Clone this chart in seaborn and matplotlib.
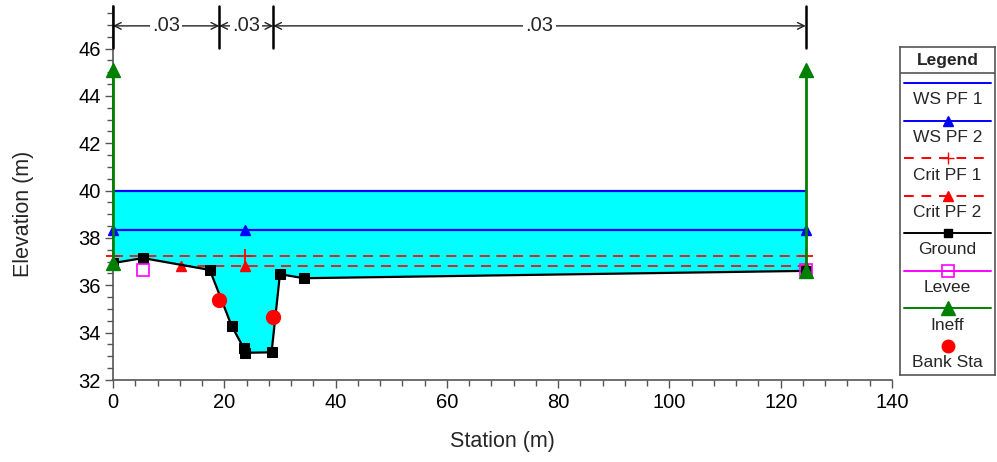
import matplotlib

matplotlib.use("Agg")
import matplotlib.pyplot as plt
import numpy as np
import pandas as pd
import seaborn as sns

sns.set_theme(style="ticks")
plt.rcParams["font.family"] = ["Liberation Sans", "DejaVu Sans"]

# --- data ------------------------------------------------------------------
ground_x = [0.0, 5.4, 17.4, 21.3, 23.5, 23.8, 28.5, 30.0, 34.3, 124.5]
ground_y = [36.94, 37.15, 36.65, 34.30, 33.34, 33.15, 33.17, 36.47, 36.30, 36.61]

ws_pf1 = 40.0
ws_pf2 = 38.35
crit_pf1 = 37.25
crit_pf2 = 36.82

ws_pf2_marks = [0.0, 23.8, 124.5]
crit_pf1_x = [0.0, 124.5]
crit_pf1_marks = [0.0, 23.8, 124.5]
crit_pf2_x = [12.3, 124.5]
crit_pf2_marks = [12.3, 23.8, 124.5]

levee_x = [5.4, 124.5]
levee_y = [36.65, 36.65]

ineff_x = [0.0, 124.5]
ineff_bottom = [36.94, 36.61]
ineff_top = 45.1

bank_x = [19.1, 28.8]
bank_y = [35.38, 34.65]

n_breaks = [0.0, 19.1, 28.8, 124.5]
n_values = [".03", ".03", ".03"]

legend_labels = ["WS PF 1", "WS PF 2", "Crit PF 1", "Crit PF 2",
                 "Ground", "Levee", "Ineff", "Bank Sta"]

ground = pd.DataFrame({"x": ground_x, "y": ground_y})

fig = plt.figure(figsize=(9.97, 4.62), dpi=100)
ax = fig.add_axes([113 / 997, 1 - 380 / 462, 779 / 997, 374 / 462])

# water fill
ax.fill_between(ground_x, ground_y, ws_pf1, color="#00ffff", lw=0, zorder=1)

x_end = ground_x[-1]
ax.plot([0, x_end], [ws_pf1, ws_pf1], color="#0000ff", lw=1.6, zorder=3)
ax.plot([0, x_end], [ws_pf2, ws_pf2], color="#0000ff", lw=1.6, zorder=3)
ax.plot(ws_pf2_marks, [ws_pf2] * len(ws_pf2_marks), ls="none", marker="^",
        color="#0000ff", ms=7, zorder=4, clip_on=False)

ax.plot(crit_pf1_x, [crit_pf1] * 2, color="red", lw=1.2, ls=(0, (6, 4)), zorder=3)
ax.plot(crit_pf1_marks, [crit_pf1] * len(crit_pf1_marks), ls="none", marker="+",
        color="red", ms=10, mew=1.3, zorder=4, clip_on=False)
ax.plot(crit_pf2_x, [crit_pf2] * 2, color="red", lw=1.2, ls=(0, (6, 4)), zorder=3)
ax.plot(crit_pf2_marks, [crit_pf2] * len(crit_pf2_marks), ls="none", marker="^",
        color="red", ms=7, zorder=4, clip_on=False)

sns.lineplot(data=ground, x="x", y="y", sort=False, color="black", lw=1.6,
             marker="s", markersize=6.5, markeredgecolor="black", ax=ax, zorder=5)

ax.plot(levee_x, levee_y, ls="none", marker="s", ms=9, mfc="none",
        mec="#ff00ff", mew=1.2, zorder=6)

for xi, yb in zip(ineff_x, ineff_bottom):
    ax.plot([xi, xi], [yb, ineff_top], color="green", lw=2, zorder=6,
            marker="^", ms=10, clip_on=False)

ax.plot(bank_x, bank_y, ls="none", marker="o", color="red", ms=10, zorder=7)

# Manning's n dimension lines along the top
dim_y = 46.96
for xb in n_breaks:
    ax.plot([xb, xb], [46.04, 47.8], color="black", lw=1.8, zorder=8, clip_on=False)
for x0, x1, nv in zip(n_breaks[:-1], n_breaks[1:], n_values):
    ax.annotate("", xy=(x0, dim_y), xytext=(x1, dim_y),
                arrowprops=dict(arrowstyle="<->", color="#222222", lw=1.0,
                                shrinkA=0, shrinkB=0, mutation_scale=12))
    ax.text((x0 + x1) / 2, dim_y, nv, ha="center", va="center", fontsize=14.5,
            bbox=dict(fc="white", ec="none", pad=1.5), zorder=9)

ax.set_xlim(0, 140)
ax.set_ylim(32, 47.8)
ax.set_xticks(np.arange(0, 141, 20))
ax.set_xticks(np.arange(0, 141, 4), minor=True)
ax.set_yticks(np.arange(32, 47, 2))
ax.set_yticks(np.arange(32, 47.8, 0.5), minor=True)
ax.tick_params(axis="both", which="major", length=6, width=1, color="#555555",
               labelsize=14.5, labelcolor="black", pad=3)
ax.tick_params(axis="both", which="minor", length=4, width=1, color="#555555")
for side in ["left", "bottom"]:
    ax.spines[side].set_color("#555555")
    ax.spines[side].set_linewidth(1.2)
ax.spines["top"].set_visible(False)
ax.spines["right"].set_visible(False)
ax.set_xlabel("Station (m)", fontsize=15.5, labelpad=14)
ax.set_ylabel("Elevation (m)", fontsize=15.5)
ax.yaxis.set_label_coords(-0.1014, 0.443)

# custom legend box (sample line above each label)
lax = fig.add_axes([900 / 997, 1 - 375 / 462, 95 / 997, 328 / 462])
lax.set_xlim(0, 95)
lax.set_ylim(328, 0)
lax.set_xticks([])
lax.set_yticks([])
for s in lax.spines.values():
    s.set_color("#555555")
    s.set_linewidth(1.2)
lax.text(47.5, 13, "Legend", ha="center", va="center", fontsize=12.5, fontweight="bold")
lax.plot([0, 95], [26, 26], color="#555555", lw=1.2)

styles = [
    dict(color="#0000ff", ls="-", marker=None),
    dict(color="#0000ff", ls="-", marker="^", ms=7),
    dict(color="red", ls=(0, (5, 4)), marker="+", ms=9),
    dict(color="red", ls=(0, (5, 4)), marker="^", ms=7),
    dict(color="black", ls="-", marker="s", ms=6),
    dict(color="#ff00ff", ls="-", marker="s", ms=9, mfc="none"),
    dict(color="green", ls="-", marker="^", ms=10),
    dict(color="red", ls="none", marker="o", ms=9),
]
for i, (lab, st) in enumerate(zip(legend_labels, styles)):
    yl = 36 + i * 37.5
    lax.plot([4, 91], [yl, yl], lw=1.4, **{k: v for k, v in st.items() if k != "marker"},
             zorder=2)
    if st["marker"] is not None:
        mkw = dict(color=st["color"], ms=st.get("ms", 7))
        if "mfc" in st:
            mkw["mfc"] = "none"
            mkw["mec"] = st["color"]
            mkw["mew"] = 1.2
        lax.plot([47.5], [yl], ls="none", marker=st["marker"], **mkw, zorder=3)
    lax.text(47.5, yl + 17, lab, ha="center", va="center", fontsize=12.5)

fig.savefig("out.png", dpi=100)
